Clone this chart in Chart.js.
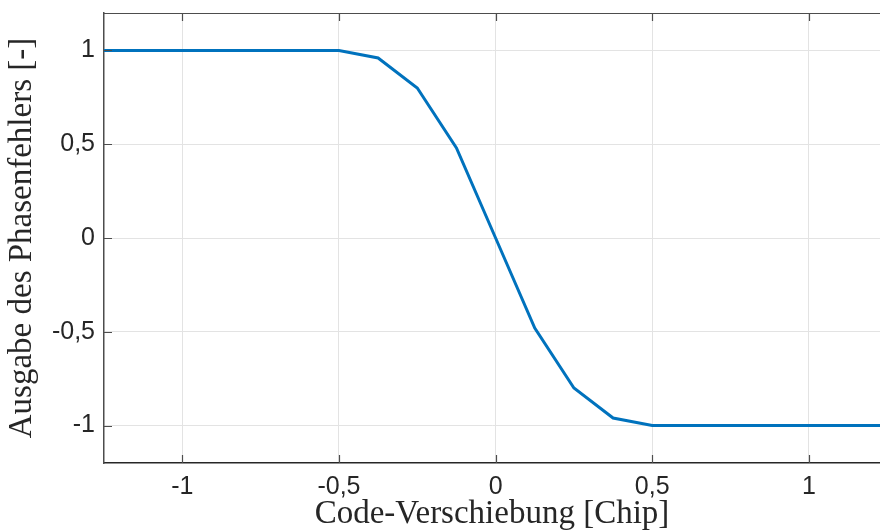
<!DOCTYPE html>
<html>
<head>
<meta charset="utf-8">
<script src="https://cdn.jsdelivr.net/npm/chart.js@4.4.1/dist/chart.umd.min.js"></script>
<style>
  html, body { margin: 0; padding: 0; background: #fff; }
  #wrap { width: 880px; height: 531px; }
</style>
</head>
<body>
<div id="wrap"><canvas id="chart" width="880" height="531"></canvas></div>
<script>
// Daten: Code-Verschiebung (Chip) vs. Ausgabe des Phasenfehlers
const codeShift = [-1.25, -0.5, -0.375, -0.25, -0.125, 0, 0.125, 0.25, 0.375, 0.5, 1.25];
const phaseError = [1, 1, 0.96, 0.8, 0.48, 0, -0.48, -0.8, -0.96, -1, -1];

const xTicks = [-1, -0.5, 0, 0.5, 1];
const yTicks = [-1, -0.5, 0, 0.5, 1];

const xLabel = 'Code-Verschiebung [Chip]';
const yLabel = 'Ausgabe des Phasenfehlers [-]';

const points = codeShift.map((x, i) => ({ x: x, y: phaseError[i] }));

const fmt = v => String(v).replace('.', ',');

// Rahmen oben + Ticks nach innen (MATLAB-Stil)
const boxPlugin = {
  id: 'boxPlugin',
  afterDraw(chart) {
    const { ctx, chartArea, scales } = chart;
    const len = 8;
    ctx.save();
    ctx.strokeStyle = '#4d4d4d';
    ctx.lineWidth = 1.2;
    ctx.beginPath();
    ctx.moveTo(chartArea.left, chartArea.top + 0.5);
    ctx.lineTo(chartArea.right, chartArea.top + 0.5);
    xTicks.forEach(v => {
      const px = Math.round(scales.x.getPixelForValue(v)) + 0.5;
      ctx.moveTo(px, chartArea.bottom);
      ctx.lineTo(px, chartArea.bottom - len);
      ctx.moveTo(px, chartArea.top);
      ctx.lineTo(px, chartArea.top + len);
    });
    yTicks.forEach(v => {
      const py = Math.round(scales.y.getPixelForValue(v)) + 0.5;
      ctx.moveTo(chartArea.left, py);
      ctx.lineTo(chartArea.left + len, py);
    });
    ctx.stroke();
    ctx.restore();
  }
};

new Chart(document.getElementById('chart'), {
  type: 'line',
  data: {
    datasets: [{
      data: points,
      borderColor: '#0072BD',
      borderWidth: 3,
      pointRadius: 0,
      tension: 0,
      fill: false
    }]
  },
  options: {
    responsive: false,
    animation: false,
    layout: { padding: { top: 13, right: 0, left: 0, bottom: 0 } },
    plugins: {
      legend: { display: false },
      tooltip: { enabled: false }
    },
    scales: {
      x: {
        type: 'linear',
        min: -1.25,
        max: 1.227,
        afterFit: s => { s.height = 68; s.paddingLeft = 0; s.paddingRight = 0; },
        afterBuildTicks: s => { s.ticks = xTicks.map(v => ({ value: v })); },
        grid: { color: '#e3e3e3', lineWidth: 1, drawTicks: false },
        border: { display: true, color: '#262626', width: 1.5 },
        ticks: {
          color: '#262626',
          padding: 9,
          maxRotation: 0,
          font: { family: 'Liberation Sans', size: 25 },
          callback: v => fmt(v)
        },
        title: {
          display: true,
          text: xLabel,
          color: '#262626',
          padding: { top: 0, bottom: 0 },
          font: { family: 'Liberation Serif', size: 33, lineHeight: 1 }
        }
      },
      y: {
        type: 'linear',
        min: -1.2,
        max: 1.2,
        afterFit: s => { s.width = 104; s.paddingTop = 0; s.paddingBottom = 0; },
        afterBuildTicks: s => { s.ticks = yTicks.map(v => ({ value: v })); },
        grid: { color: '#e3e3e3', lineWidth: 1, drawTicks: false },
        border: { display: true, color: '#4d4d4d', width: 1.5 },
        ticks: {
          color: '#262626',
          padding: 9,
          font: { family: 'Liberation Sans', size: 25 },
          callback: v => fmt(v)
        },
        title: {
          display: true,
          text: yLabel,
          color: '#262626',
          padding: { top: 6, bottom: 0 },
          font: { family: 'Liberation Serif', size: 33, lineHeight: 1 }
        }
      }
    }
  },
  plugins: [boxPlugin]
});
</script>
</body>
</html>
